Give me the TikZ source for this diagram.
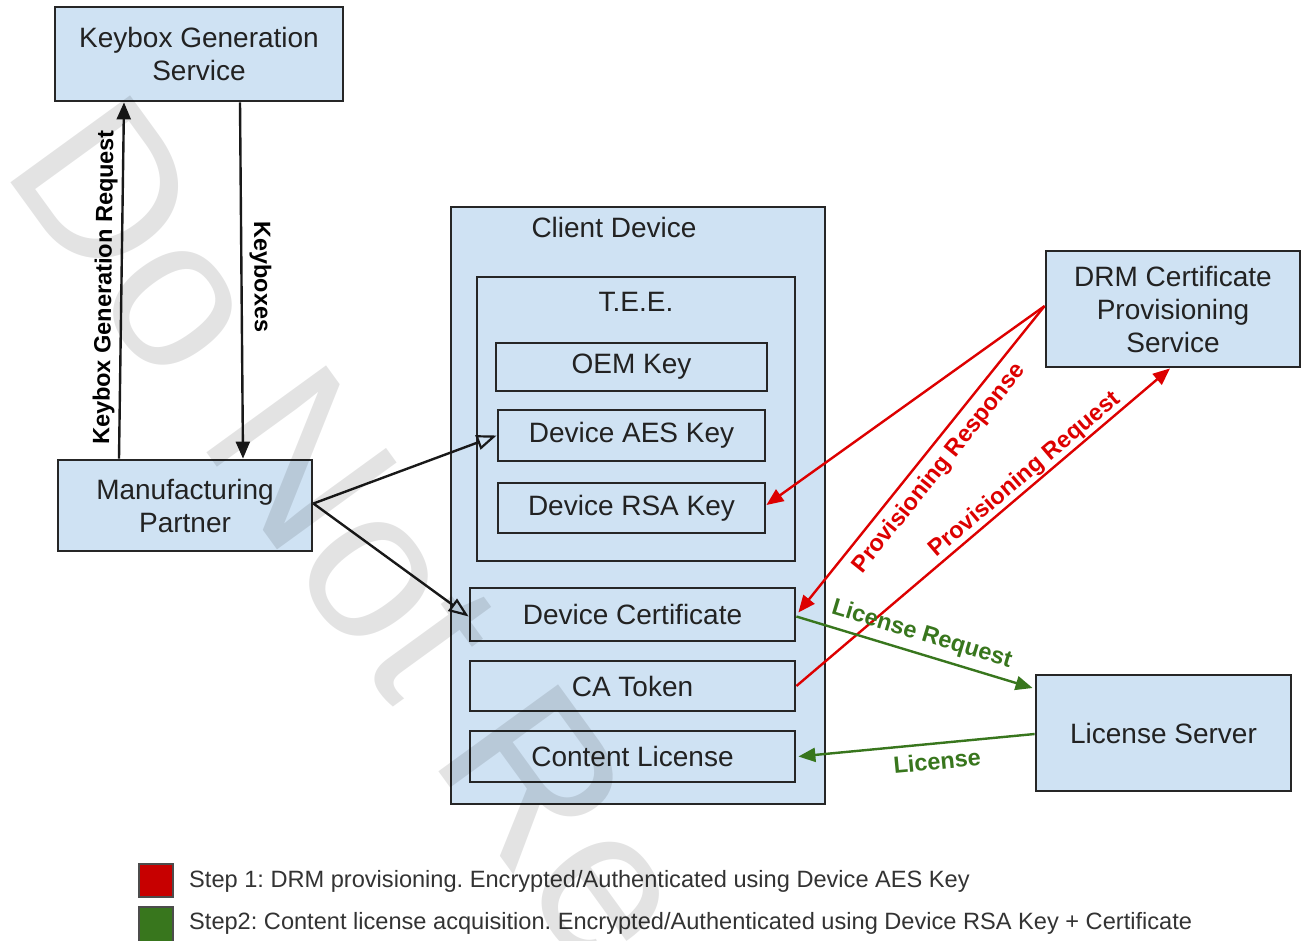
\documentclass[tikz,border=0pt]{standalone}
\usepackage{fontspec}
\setmainfont{Liberation Sans}
\usetikzlibrary{arrows.meta,calc}
\definecolor{boxblue}{HTML}{CFE2F3}
\definecolor{arrred}{HTML}{DD0000}
\definecolor{arrgreen}{HTML}{38761D}
\definecolor{txt}{HTML}{222222}
\definecolor{legtxt}{HTML}{333333}
\frenchspacing
\begin{document}
\begin{tikzpicture}[x=1pt,y=-1pt,
  box/.style={draw=black!85, fill=boxblue, line width=2.8pt, inner sep=0pt, text=txt,
    font=\fontsize{28}{33}\selectfont, align=center},
  boxlabel/.style={inner sep=0pt, text=txt, font=\fontsize{28}{33}\selectfont},
  conn/.style={line width=2.4pt, draw=black!90},
  solidtip/.style={-{Triangle[length=17pt,width=14pt]}},
  opentip/.style={-{Triangle[open,length=20pt,width=15pt,line width=2.2pt]}},
  redarrow/.style={line width=2.4pt, draw=arrred, -{Triangle[length=17pt,width=14pt]}},
  greenarrow/.style={line width=2.4pt, draw=arrgreen, -{Triangle[length=17pt,width=14pt]}},
  arrlbl/.style={font=\bfseries\fontsize{23.5}{26}\selectfont, inner sep=2pt},
  legtext/.style={font=\fontsize{23.6}{26}\selectfont, text=legtxt, inner sep=0pt, anchor=west},
  legsq/.style={draw=black!70, line width=1.5pt},
  wm/.style={font=\fontsize{215}{215}\selectfont, text=black, text opacity=0.11, inner sep=0pt}
]
\useasboundingbox[fill=white] (0,0) rectangle (1301,940);

% top-left boxes
\node[box, minimum width=288pt, minimum height=94pt] (kgs) at (199,54) {Keybox Generation\\Service};
\node[box, minimum width=254pt, minimum height=91pt] (mp) at (185,505.5) {Manufacturing\\Partner};

% client device
\node[box, minimum width=374pt, minimum height=597pt] (cd) at (638,505.5) {};
\node[boxlabel] (cdlabel) at (614,227) {Client Device};
\node[box, minimum width=318pt, minimum height=284pt] (tee) at (636,419) {};
\node[boxlabel] (teelabel) at (636,302) {T.E.E.};
\node[box, minimum width=271pt, minimum height=48pt] (oem) at (631.5,367) {OEM Key};
\node[box, minimum width=267pt, minimum height=51pt] (aes) at (631.5,435.5) {Device AES Key};
\node[box, minimum width=267pt, minimum height=50pt] (rsa) at (631.5,508) {Device RSA Key};
\node[box, minimum width=325pt, minimum height=53pt] (cert) at (632.5,614.5) {Device Certificate};
\node[box, minimum width=325pt, minimum height=50pt] (ca) at (632.5,686) {CA Token};
\node[box, minimum width=325pt, minimum height=51pt] (lic) at (632.5,756.5) {Content License};

% right boxes
\node[box, minimum width=254pt, minimum height=116pt] (drm) at (1173,309) {DRM Certificate\\Provisioning\\Service};
\node[box, minimum width=255pt, minimum height=116pt] (ls) at (1163.5,733) {License Server};

% keybox arrows
\draw[conn, solidtip] ([xshift=-66pt]mp.north) -- node[arrlbl, sloped, above, pos=0.48, inner sep=4pt] (lkgr) {Keybox Generation Request} ([xshift=-75pt]kgs.south);
\draw[conn, solidtip] ([xshift=41pt]kgs.south) -- node[arrlbl, sloped, above, pos=0.49, inner sep=7pt] (lkb) {Keyboxes} ([xshift=58pt]mp.north);

% manufacturing -> device
\draw[conn, opentip] ([yshift=2pt]mp.east) -- (aes.west);
\draw[conn, opentip] ([yshift=2pt]mp.east) -- ([yshift=-2pt]cert.west);

% red provisioning
\draw[redarrow] ([yshift=3pt]drm.west) -- ([yshift=3pt]rsa.east);
\draw[redarrow] ([yshift=3pt]drm.west) -- node[arrlbl, text=arrred, sloped, below, pos=0.49, inner sep=7.5pt] (lpresp) {Provisioning Response} ([xshift=2pt,yshift=2pt]cert.east);
\draw[redarrow] (ca.east) -- node[arrlbl, text=arrred, sloped, above, pos=0.634, inner sep=0.5pt] (lpreq) {Provisioning Request} ([xshift=-3pt]drm.south);

% green license
\draw[greenarrow] ([yshift=-2pt]cert.east) -- node[arrlbl, text=arrgreen, sloped, above, pos=0.508, inner sep=6.5pt] (llreq) {License Request} ([xshift=-2pt,yshift=45pt]ls.west);
\draw[greenarrow] ([yshift=-1pt]ls.west) -- node[arrlbl, text=arrgreen, sloped, below, pos=0.42, inner sep=8pt] (llic) {License} ([xshift=2pt]lic.east);

% legend
\draw[legsq, fill=arrred!90!black] (139,864) rectangle (173,897);
\node[legtext] (leg1) at (189,881) {Step 1: DRM provisioning. Encrypted/Authenticated using Device AES Key};
\draw[legsq, fill=arrgreen] (139,907) rectangle (173,945);
\node[legtext] (leg2) at (189,923) {Step2: Content license acquisition. Encrypted/Authenticated using Device RSA Key + Certificate};

% watermark
\begin{scope}
\clip (0,0) rectangle (1301,940);
\node[wm, rotate=-54, anchor=base west] (wmark) at (0,168) {Do Not Re};
\end{scope}
\end{tikzpicture}
\end{document}
